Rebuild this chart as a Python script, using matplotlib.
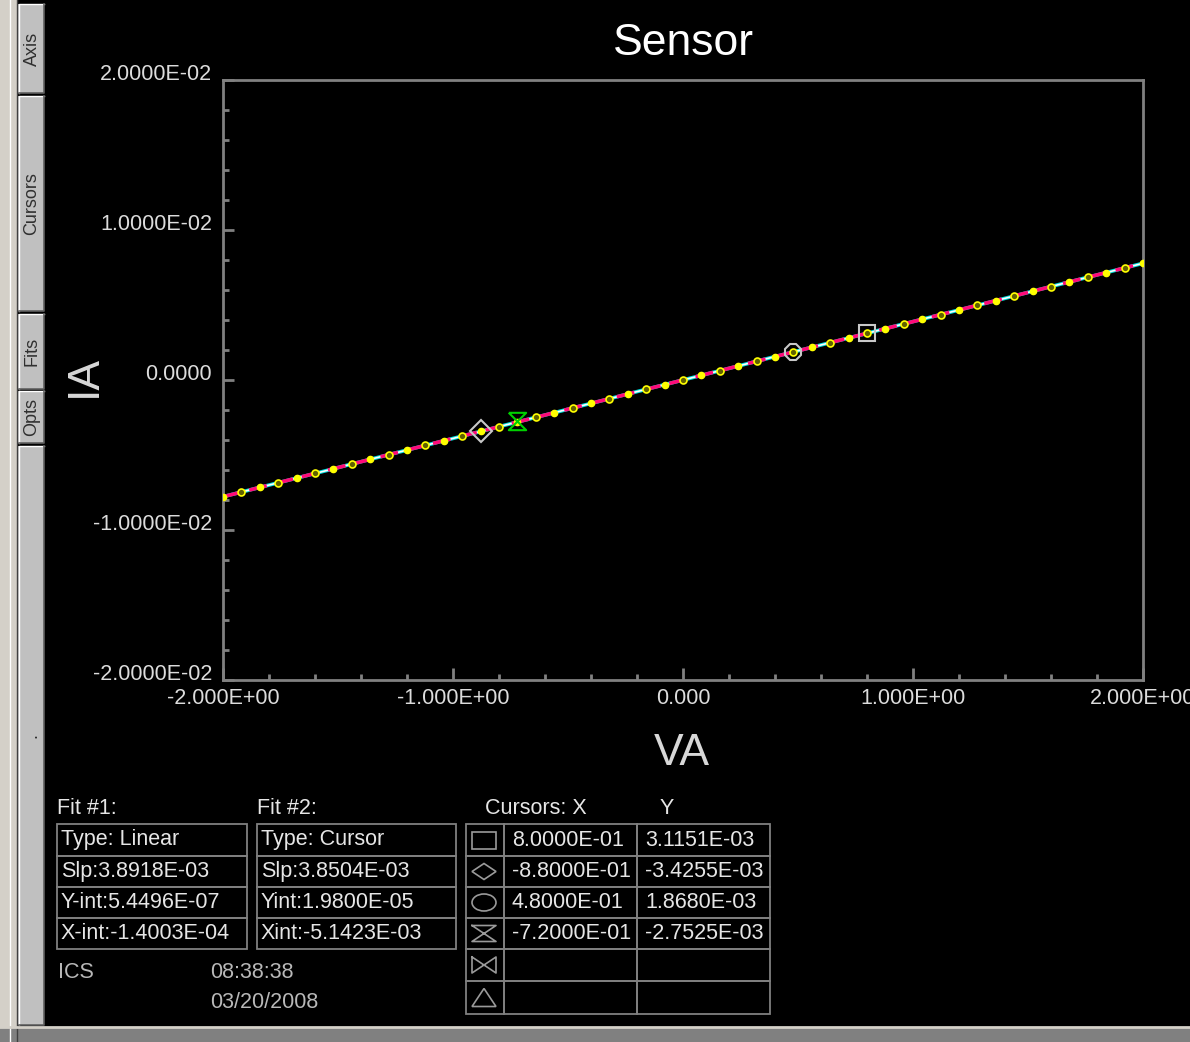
import numpy as np
import matplotlib
matplotlib.use("Agg")
import matplotlib.pyplot as plt
from matplotlib.patches import Rectangle, Ellipse, Polygon
from matplotlib.path import Path
from matplotlib.ticker import MultipleLocator

plt.rcParams['font.family'] = ['Liberation Sans', 'DejaVu Sans']

W, H = 1190, 1042

va_volts = [-2.00, -1.92, -1.84, -1.76, -1.68, -1.60, -1.52, -1.44, -1.36, -1.28,
            -1.20, -1.12, -1.04, -0.96, -0.88, -0.80, -0.72, -0.64, -0.56, -0.48,
            -0.40, -0.32, -0.24, -0.16, -0.08, 0.00, 0.08, 0.16, 0.24, 0.32,
            0.40, 0.48, 0.56, 0.64, 0.72, 0.80, 0.88, 0.96, 1.04, 1.12,
            1.20, 1.28, 1.36, 1.44, 1.52, 1.60, 1.68, 1.76, 1.84, 1.92, 2.00]
ia_mA = [-7.78, -7.47, -7.16, -6.85, -6.54, -6.23, -5.92, -5.60, -5.29, -4.98,
         -4.67, -4.36, -4.05, -3.74, -3.43, -3.11, -2.80, -2.49, -2.18, -1.87,
         -1.56, -1.25, -0.93, -0.62, -0.31, 0.00, 0.31, 0.62, 0.93, 1.25,
         1.56, 1.87, 2.18, 2.49, 2.80, 3.11, 3.43, 3.74, 4.05, 4.36,
         4.67, 4.98, 5.29, 5.60, 5.92, 6.23, 6.54, 6.85, 7.16, 7.47, 7.78]

fit_slope = 3.8918e-3
fit_yint = 5.4496e-7

cursor_x = [0.80, -0.88, 0.48, -0.72]
cursor_y = [3.1151e-3, -3.4255e-3, 1.8680e-3, -2.7525e-3]

xticks = [-2, -1, 0, 1, 2]
xtick_labels = ["-2.000E+00", "-1.000E+00", "0.000", "1.000E+00", "2.000E+00"]
yticks = [0.02, 0.01, 0.0, -0.01, -0.02]
ytick_labels = ["2.0000E-02", "1.0000E-02", "0.0000", "-1.0000E-02", "-2.0000E-02"]

fit1_rows = ["Type: Linear", "Slp:3.8918E-03", "Y-int:5.4496E-07", "X-int:-1.4003E-04"]
fit2_rows = ["Type: Cursor", "Slp:3.8504E-03", "Yint:1.9800E-05", "Xint:-5.1423E-03"]
cursor_col_x = ["8.0000E-01", "-8.8000E-01", "4.8000E-01", "-7.2000E-01", "", ""]
cursor_col_y = ["3.1151E-03", "-3.4255E-03", "1.8680E-03", "-2.7525E-03", "", ""]

tabs = [("Axis", 4, 93), ("Cursors", 96, 311), ("Fits", 314, 389),
        ("Opts", 391, 443), (".", 446, 1025)]

GRID = '#808080'
TXT = '#e6e6e6'
FS = 15.5

fig = plt.figure(figsize=(W / 100, H / 100), dpi=100, facecolor='black')

# window chrome drawn in pixel coordinates
ui = fig.add_axes([0, 0, 1, 1])
ui.set_xlim(0, W)
ui.set_ylim(H, 0)
ui.axis('off')

ui.add_patch(Rectangle((0, 0), 18, H, fc='#d4d0c8', ec='none'))
ui.plot([10, 10], [0, H], color='white', lw=1)
ui.plot([16.5, 16.5], [0, H], color='#404040', lw=1)
for name, y0, y1 in tabs:
    ui.add_patch(Rectangle((18, y0), 26, y1 - y0, fc='#c0c0c0', ec='none'))
    ui.plot([18.5, 18.5, 43.5], [y1, y0, y0], color='white', lw=1)
    ui.plot([18.5, 43.5, 43.5], [y1 - 0.5, y1 - 0.5, y0], color='#606060', lw=1.2)
    ui.text(32, (y0 + y1) / 2, name, rotation=90, ha='center', va='center',
            fontsize=13, color='#303030')

ui.add_patch(Rectangle((0, 1027), W, 15, fc='#808080', ec='none'))
ui.plot([0, W], [1026.5, 1026.5], color='#d4d0c8', lw=2)

ui.text(683, 55, "Sensor", ha='center', va='baseline', fontsize=32, color='white')
ui.text(682, 765, "VA", ha='center', va='baseline', fontsize=32, color='#d8d8d8')
ui.text(84, 376, "IA", ha='center', va='center', rotation=90, fontsize=32, color='#d8d8d8')

row_edges = [824, 856, 887, 918, 949, 981, 1014]
row_mid = [(row_edges[i] + row_edges[i + 1]) / 2 for i in range(6)]


def box_table(x0, x1, rows):
    for i, t in enumerate(rows):
        ui.add_patch(Rectangle((x0, row_edges[i]), x1 - x0, row_edges[i + 1] - row_edges[i],
                               fc='none', ec=GRID, lw=1.3))
        ui.text(x0 + 4, row_mid[i], t, ha='left', va='center', fontsize=FS, color=TXT)


ui.text(57, 808, "Fit #1:", ha='left', va='center', fontsize=FS, color=TXT)
ui.text(257, 808, "Fit #2:", ha='left', va='center', fontsize=FS, color=TXT)
box_table(57, 247, fit1_rows)
box_table(257, 456, fit2_rows)

ui.text(58, 972, "ICS", ha='left', va='center', fontsize=FS, color='#b8b8b8')
ui.text(210, 972, "08:38:38", ha='left', va='center', fontsize=FS, color='#b8b8b8')
ui.text(210, 1002, "03/20/2008", ha='left', va='center', fontsize=FS, color='#b8b8b8')

# cursor table
ui.text(485, 808, "Cursors: X", ha='left', va='center', fontsize=FS, color=TXT)
ui.text(667, 808, "Y", ha='center', va='center', fontsize=FS, color=TXT)
cols = [466, 504, 637, 770]
for i in range(6):
    for c in range(3):
        ui.add_patch(Rectangle((cols[c], row_edges[i]), cols[c + 1] - cols[c],
                               row_edges[i + 1] - row_edges[i], fc='none', ec=GRID, lw=1.3))
    ui.text(512, row_mid[i], cursor_col_x[i], ha='left', va='center', fontsize=FS, color=TXT)
    ui.text(645, row_mid[i], cursor_col_y[i], ha='left', va='center', fontsize=FS, color=TXT)

IC = '#9a9a9a'
cx = 484
ui.add_patch(Rectangle((472, row_mid[0] - 8.5), 24, 17, fc='none', ec=IC, lw=1.2))
m = row_mid[1]
ui.add_patch(Polygon([[cx - 12, m], [cx, m - 8], [cx + 12, m], [cx, m + 8]],
                     closed=True, fc='none', ec=IC, lw=1.2))
ui.add_patch(Ellipse((cx, row_mid[2]), 24, 17, fc='none', ec=IC, lw=1.2))
m = row_mid[3]
ui.plot([cx - 12, cx + 12, cx - 12, cx + 12, cx - 12],
        [m - 8, m - 8, m + 8, m + 8, m - 8], color=IC, lw=1.2)
m = row_mid[4]
ui.plot([cx - 12, cx - 12, cx + 12, cx + 12, cx - 12],
        [m - 8, m + 8, m - 8, m + 8, m - 8], color=IC, lw=1.2)
m = row_mid[5]
ui.add_patch(Polygon([[cx - 12, m + 9], [cx + 12, m + 9], [cx, m - 9]],
                     closed=True, fc='none', ec=IC, lw=1.2))

# main plot
ax = fig.add_axes([223 / W, 1 - 680 / H, 920 / W, 600 / H])
ax.set_facecolor('none')
ax.set_xlim(-2, 2)
ax.set_ylim(-0.02, 0.02)
for s in ax.spines.values():
    s.set_color(GRID)
    s.set_linewidth(2)

va = np.array(va_volts)
ia = np.array(ia_mA) * 1e-3

ax.plot(va, ia, color='#00e0e0', lw=2.6, zorder=2)
ax.plot(va, ia, color='white', lw=1.2, zorder=3)
xf = np.array([va[0], va[-1]])
ax.plot(xf, fit_slope * xf + fit_yint, color='#ff0a78', lw=2.6,
        dashes=(5, 2.5), zorder=4)
ax.plot(va[::2], ia[::2], 'o', ms=4.5, mfc='#ffff00', mec='#ffff00', zorder=5)
ax.plot(va[1::2], ia[1::2], 'o', ms=5, mfc='#606000', mec='#ffff00', mew=1.2, zorder=5)

ax.plot(cursor_x[0], cursor_y[0], 's', ms=11.5, mfc='none', mec='#c8c8c8', mew=1.5, zorder=6)
ax.plot(cursor_x[1], cursor_y[1], 'D', ms=11, mfc='none', mec='#c8c8c8', mew=1.5, zorder=6)
ax.plot(cursor_x[2], cursor_y[2], '8', ms=12, mfc='none', mec='#c8c8c8', mew=1.5, zorder=6)
hourglass = Path([(-1, 1), (1, 1), (-1, -1), (1, -1), (-1, 1)])
ax.plot(cursor_x[3], cursor_y[3], marker=hourglass, ms=12.5, mfc='none',
        mec='#00d000', mew=1.5, ls='none', zorder=6)

ax.set_xticks(xticks)
ax.set_xticklabels(xtick_labels)
ax.set_yticks(yticks)
ax.set_yticklabels(ytick_labels)
ax.xaxis.set_minor_locator(MultipleLocator(0.2))
ax.yaxis.set_minor_locator(MultipleLocator(0.002))
ax.tick_params(which='both', direction='in', color=GRID, width=2,
               top=False, right=False, labelcolor='#dcdcdc', labelsize=FS)
ax.tick_params(axis='x', which='major', length=9, pad=6)
ax.tick_params(axis='x', which='minor', length=4)
ax.tick_params(axis='y', which='major', length=8, pad=8)
ax.tick_params(axis='y', which='minor', length=4)
for lab in ax.get_yticklabels():
    lab.set_verticalalignment('baseline')

fig.savefig('out.png', dpi=100, facecolor='black')
